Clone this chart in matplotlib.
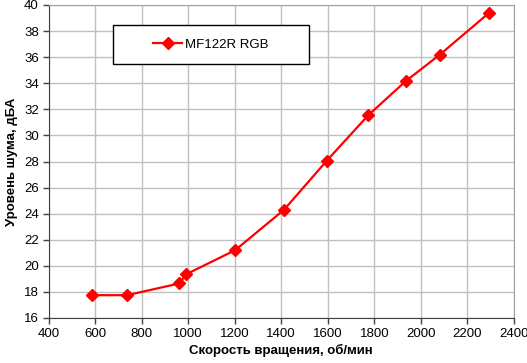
import matplotlib
matplotlib.use("Agg")
import matplotlib.pyplot as plt
from matplotlib.patches import Rectangle

plt.rcParams['font.family'] = ['Liberation Sans', 'DejaVu Sans']

# fan speed (rpm) vs noise level (dBA)
rpm = [588, 738, 962, 991, 1202, 1412, 1595, 1774, 1934, 2082, 2293]
noise = [17.75, 17.75, 18.65, 19.35, 21.2, 24.3, 28.05, 31.55, 34.15, 36.2, 39.4]
series_name = 'MF122R RGB'

x_ticks = list(range(400, 2401, 200))
y_ticks = list(range(16, 41, 2))


def main():
	fig = plt.figure(figsize=(5.27, 3.63), dpi=100)
	ax = fig.add_axes([48.5 / 527, 1 - 318 / 363, 465.5 / 527, 313 / 363])

	ax.plot(rpm, noise, color='#ff0000', lw=1.6, marker='D', ms=6,
		mec='#ff0000', mfc='#ff0000', label=series_name, zorder=3)

	ax.set_xlim(400, 2400)
	ax.set_ylim(16, 40)
	ax.set_xticks(x_ticks)
	ax.set_yticks(y_ticks)
	ax.grid(True, color='#c0c0c0', lw=1)
	ax.set_axisbelow(True)
	for side in ['top', 'right']:
		ax.spines[side].set_color('#a0a0a0')
	for side in ['left', 'bottom']:
		ax.spines[side].set_color('#404040')
	ax.tick_params(direction='out', length=4, width=1, color='#404040',
		labelsize=9.5, pad=3)

	ax.set_xlabel('Скорость вращения, об/мин', fontsize=9.5, fontweight='bold', labelpad=3)
	ax.set_ylabel('Уровень шума, дБА', fontsize=9.5, fontweight='bold', labelpad=4)

	# legend box
	ax.add_patch(Rectangle((0.139, 0.811), 0.42, 0.125, transform=ax.transAxes,
		facecolor='white', edgecolor='black', lw=1, zorder=4))
	ax.legend(loc='center', bbox_to_anchor=(0.349, 0.873), frameon=False,
		fontsize=9.5, handlelength=2.2, handletextpad=0.2).set_zorder(5)

	fig.savefig('out.png', dpi=100)


if __name__ == "__main__":
	main()
